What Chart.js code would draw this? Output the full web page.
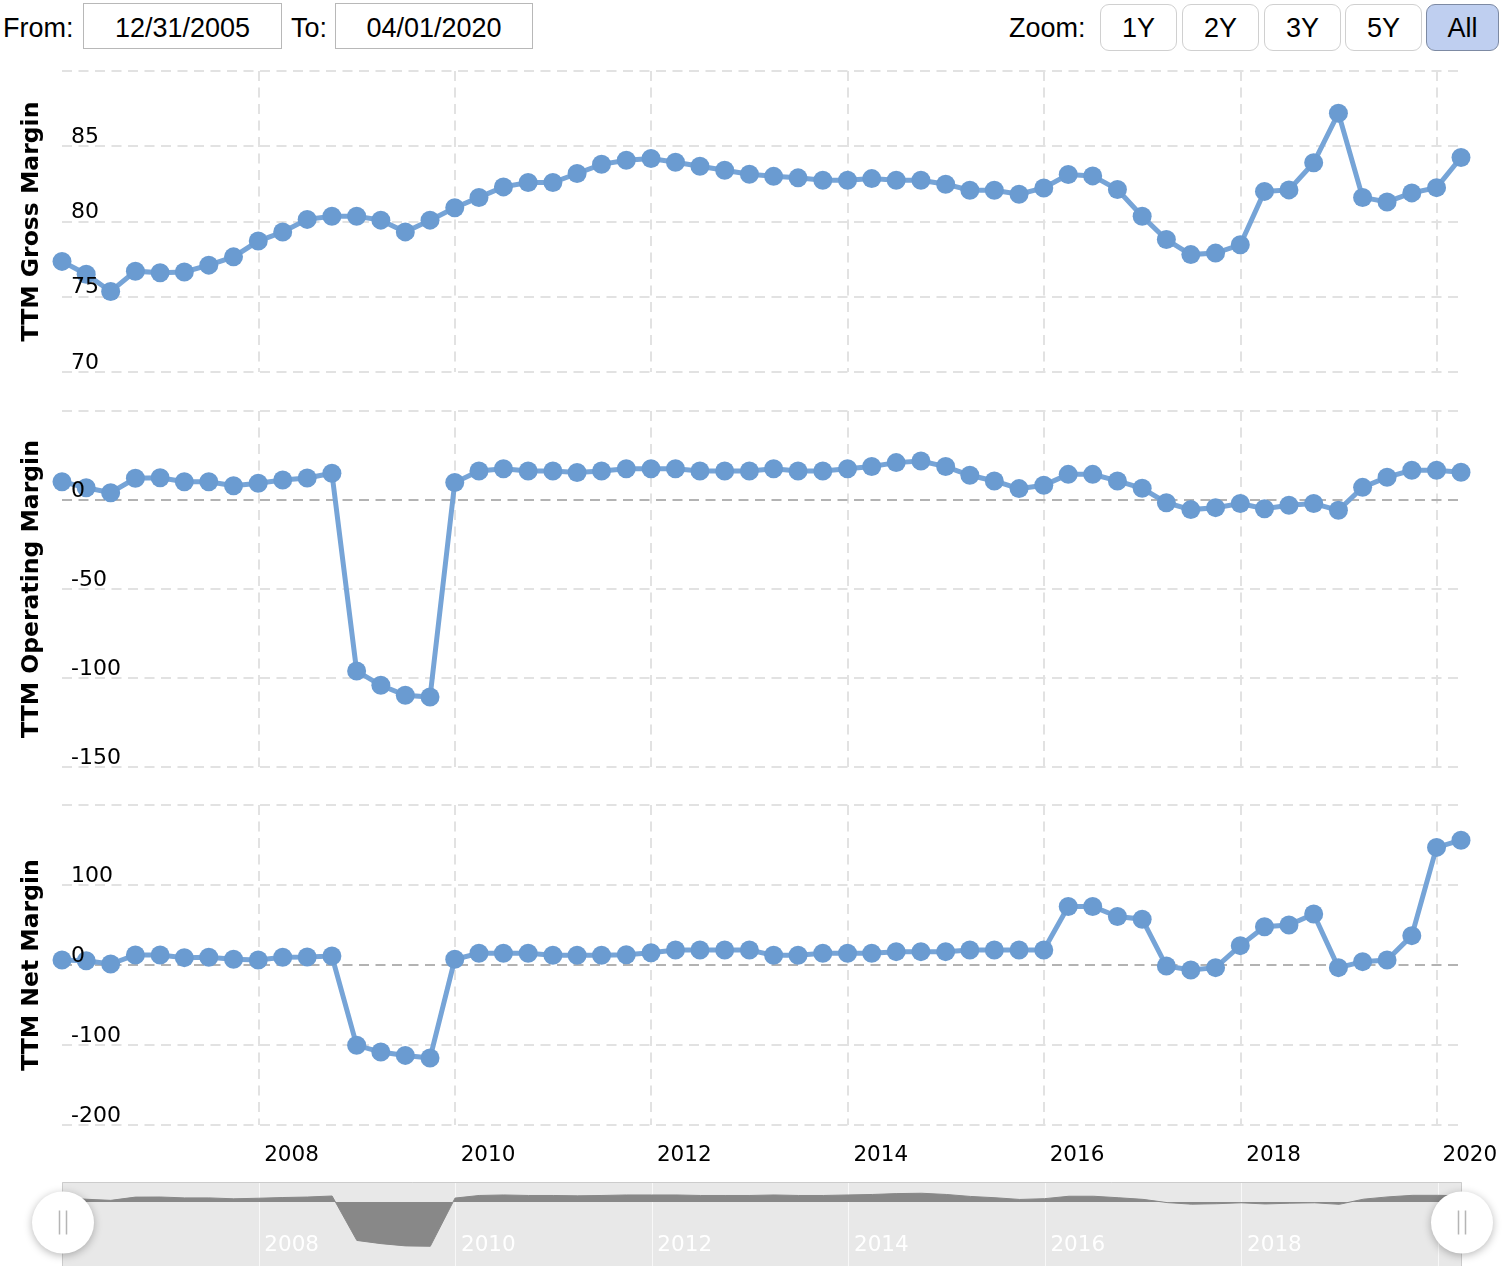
<!DOCTYPE html>
<html><head><meta charset="utf-8">
<script src="https://cdn.jsdelivr.net/npm/chart.js@4.4.1/dist/chart.umd.min.js"></script>
<style>
html,body{margin:0;padding:0;background:#fff;}
body{width:1502px;height:1266px;position:relative;overflow:hidden;font-family:'Liberation Sans',Arial,Helvetica,sans-serif;color:#000;}
.lbl{position:absolute;top:0;height:56px;line-height:56px;font-size:27px;white-space:nowrap;}
.inp{position:absolute;top:3px;height:46px;box-sizing:border-box;border:1.5px solid #b8b8b8;font-size:27px;line-height:48px;text-align:center;background:#fff;}
.btn{position:absolute;top:4px;height:47px;box-sizing:border-box;border:1.5px solid #d0d0d0;border-radius:9px;font-size:27px;line-height:47px;text-align:center;background:#fff;}
.btn.on{background:#bfcff0;border-color:#7d8aa3;}
canvas{position:absolute;left:0;}
</style>
</head><body>
<div class="lbl" style="left:3px;">From:</div>
<div class="inp" style="left:83px;width:199px;">12/31/2005</div>
<div class="lbl" style="left:291px;">To:</div>
<div class="inp" style="left:335px;width:198px;">04/01/2020</div>
<div class="lbl" style="left:1009px;">Zoom:</div>
<div class="btn" style="left:1100px;width:77px;">1Y</div>
<div class="btn" style="left:1182px;width:77px;">2Y</div>
<div class="btn" style="left:1264px;width:77px;">3Y</div>
<div class="btn" style="left:1345px;width:77px;">5Y</div>
<div class="btn on" style="left:1426px;width:73px;">All</div>

<canvas id="c1" width="1502" height="326" style="top:60px;width:1502px;height:326px;"></canvas>
<canvas id="c2" width="1502" height="385" style="top:395px;width:1502px;height:385px;"></canvas>
<canvas id="c3" width="1502" height="385" style="top:790px;width:1502px;height:385px;"></canvas>
<canvas id="c4" width="1502" height="90" style="top:1176px;width:1502px;height:90px;"></canvas>

<script>
const dates = [
 '2005-12-31',
 '2006-03-31','2006-06-30','2006-09-30','2006-12-31',
 '2007-03-31','2007-06-30','2007-09-30','2007-12-31',
 '2008-03-31','2008-06-30','2008-09-30','2008-12-31',
 '2009-03-31','2009-06-30','2009-09-30','2009-12-31',
 '2010-03-31','2010-06-30','2010-09-30','2010-12-31',
 '2011-03-31','2011-06-30','2011-09-30','2011-12-31',
 '2012-03-31','2012-06-30','2012-09-30','2012-12-31',
 '2013-03-31','2013-06-30','2013-09-30','2013-12-31',
 '2014-03-31','2014-06-30','2014-09-30','2014-12-31',
 '2015-03-31','2015-06-30','2015-09-30','2015-12-31',
 '2016-03-31','2016-06-30','2016-09-30','2016-12-31',
 '2017-03-31','2017-06-30','2017-09-30','2017-12-31',
 '2018-03-31','2018-06-30','2018-09-30','2018-12-31',
 '2019-03-31','2019-06-30','2019-09-30','2019-12-31',
 '2020-03-31'
];
const grossMargin = [
 77.35, 76.5, 75.35, 76.7, 76.6, 76.65, 77.1, 77.65, 78.7, 79.3,
 80.14, 80.35, 80.35, 80.09, 79.31, 80.09, 80.91, 81.6, 82.3, 82.59,
 82.59, 83.19, 83.8, 84.07, 84.18, 83.94, 83.67, 83.4, 83.14, 83.0,
 82.9, 82.74, 82.74, 82.85, 82.74, 82.74, 82.48, 82.08, 82.08, 81.81,
 82.23, 83.12, 83.03, 82.13, 80.35, 78.8, 77.8, 77.9, 78.45, 82.0,
 82.1, 83.9, 87.2, 81.6, 81.3, 81.9, 82.25, 84.25
];
const operatingMargin = [
 10.3, 6.9, 4.1, 12.2, 12.5, 10.3, 10.3, 8.0, 9.4, 11.2,
 12.4, 15.0, -96.1, -104.1, -109.7, -110.7, 9.8, 16.3, 17.6, 16.3,
 16.3, 15.4, 16.3, 17.6, 17.6, 17.6, 16.3, 16.3, 16.3, 17.6,
 16.3, 16.3, 17.6, 18.8, 21.0, 21.9, 18.8, 13.9, 10.7, 6.4,
 8.3, 14.4, 14.4, 10.7, 6.6, -1.5, -5.4, -4.3, -2.0, -4.9,
 -3.0, -2.0, -5.8, 7.1, 12.8, 16.7, 16.7, 15.6
];
const netMargin = [
 6.25, 5.4, 1.25, 12.5, 12.5, 9.2, 9.6, 7.1, 6.25, 9.6,
 10.0, 11.3, -100.4, -108.8, -113.0, -116.3, 7.1, 14.6, 14.6, 14.6,
 12.1, 12.1, 12.1, 12.9, 15.4, 18.8, 18.8, 18.8, 18.8, 12.1,
 12.1, 14.6, 14.6, 14.6, 16.7, 16.7, 16.7, 18.8, 18.8, 18.8,
 18.8, 73.2, 73.2, 60.6, 57.3, -1.3, -6.3, -3.3, 24.2, 47.9,
 50.0, 63.75, -3.3, 4.2, 6.25, 36.7, 147.0, 156.0
];
const yearTicks = [2008, 2010, 2012, 2014, 2016, 2018, 2020];
const grossTicks = [70, 75, 80, 85, 90];
const operatingTicks = [-150, -100, -50, 0, 50];
const netTicks = [-200, -100, 0, 100, 200];
const navigatorRange = [-150, 50];

const toTime = s => { const p = s.split('-').map(Number); return Date.UTC(p[0], p[1]-1, p[2]); };
const xs = dates.map(toTime);
const xMin = xs[0], xMax = xs[xs.length-1];
const tickTimes = yearTicks.map(y => Date.UTC(y, 0, 1));

const FONT = 'DejaVu Sans';
const LINE = '#76a4d7';
const MARK = '#6a9bd1';
const GRID = '#e2e2e2';
const ZERO = '#b3b3b3';
const DASH = [10, 6.5];

function zeroPad(s){ s.paddingTop = 0; s.paddingBottom = 0; s.paddingLeft = 0; s.paddingRight = 0; }

function xAxis(showLabels){
  return {
    type: 'linear', min: xMin, max: xMax,
    afterBuildTicks: s => { s.ticks = tickTimes.map(v => ({value: v})); },
    grid: {color: GRID, lineWidth: 2, drawTicks: false},
    border: {display: false, dash: DASH},
    ticks: {display: showLabels, autoSkip: false, maxRotation: 0, labelOffset: 33, padding: 18,
      color: '#000', font: {family: FONT, size: 21.5},
      callback: v => String(new Date(v).getUTCFullYear())},
    afterFit: s => { s.height = showLabels ? 50 : 0; zeroPad(s); }
  };
}
// main axis: grid lines + title (outer)
function yAxis(title, ticks){
  const min = ticks[0], max = ticks[ticks.length-1];
  return {
    type: 'linear', position: 'left', weight: 1, min: min, max: max,
    afterBuildTicks: s => { s.ticks = ticks.map(v => ({value: v})); },
    grid: {color: c => (c.tick && c.tick.value === 0) ? ZERO : GRID, lineWidth: 2, drawTicks: false},
    border: {display: false, dash: DASH},
    ticks: {display: false},
    title: {display: true, text: title, color: '#000', font: {family: FONT, size: 23.5, weight: 'bold'},
      padding: {top: 18, bottom: 0}},
    afterFit: s => { s.width = 62; zeroPad(s); }
  };
}
// label axis: tick labels drawn above the series
function yLabelAxis(ticks){
  const min = ticks[0], max = ticks[ticks.length-1];
  return {
    type: 'linear', position: 'left', weight: 0, min: min, max: max,
    afterBuildTicks: s => { s.ticks = ticks.map(v => ({value: v})); },
    grid: {display: false, drawTicks: false},
    border: {display: false},
    ticks: {z: 1, mirror: true, padding: 9, labelOffset: -9, color: '#000', font: {family: FONT, size: 22},
      callback: v => v === max ? '' : String(v)},
    afterFit: s => { s.width = 0; zeroPad(s); }
  };
}
function makeChart(id, values, title, ticks, showX, padTop, padBottom){
  return new Chart(document.getElementById(id), {
    type: 'line',
    data: {datasets: [{
      data: xs.map((x, i) => ({x: x, y: values[i]})),
      yAxisID: 'y',
      borderColor: LINE, borderWidth: 5,
      pointRadius: 9.5, pointHoverRadius: 9.5, pointBackgroundColor: MARK, pointBorderWidth: 0,
      tension: 0, clip: false, fill: false
    }]},
    options: {
      responsive: false, animation: false, events: [],
      layout: {padding: {left: 0, right: 41, top: padTop, bottom: padBottom}},
      plugins: {legend: {display: false}, tooltip: {enabled: false}},
      scales: {x: xAxis(showX), y: yAxis(title, ticks), yl: yLabelAxis(ticks)}
    }
  });
}

makeChart('c1', grossMargin, 'TTM Gross Margin', grossTicks, false, 11, 14);
makeChart('c2', operatingMargin, 'TTM Operating Margin', operatingTicks, false, 16, 13);
makeChart('c3', netMargin, 'TTM Net Margin', netTicks, true, 15, 0);

const navPlugin = {
  id: 'nav',
  beforeDraw(chart){
    const {ctx, chartArea: a} = chart;
    ctx.save();
    ctx.fillStyle = '#e8e8e8';
    ctx.fillRect(a.left, a.top, a.right - a.left, a.bottom - a.top + 10);
    const xs = chart.scales.x;
    ctx.strokeStyle = 'rgba(255,255,255,0.7)';
    ctx.lineWidth = 1;
    tickTimes.forEach(t => {
      const px = Math.round(xs.getPixelForValue(t)) + 0.5;
      ctx.beginPath(); ctx.moveTo(px, a.top); ctx.lineTo(px, chart.height); ctx.stroke();
    });
    ctx.restore();
  },
  afterDraw(chart){
    const {ctx, chartArea: a} = chart;
    const xs = chart.scales.x;
    ctx.save();
    ctx.fillStyle = '#ffffff';
    ctx.font = '21.5px "' + FONT + '"';
    ctx.textAlign = 'center';
    ctx.textBaseline = 'middle';
    yearTicks.forEach((y, i) => {
      if (y === 2020) return;
      ctx.fillText(String(y), xs.getPixelForValue(tickTimes[i]) + 33, 69);
    });
    ctx.strokeStyle = '#cccccc';
    ctx.lineWidth = 1;
    ctx.beginPath();
    ctx.moveTo(a.left + 0.5, chart.height); ctx.lineTo(a.left + 0.5, a.top + 0.5);
    ctx.lineTo(a.right - 0.5, a.top + 0.5); ctx.lineTo(a.right - 0.5, chart.height);
    ctx.stroke();
    [a.left + 1, a.right].forEach(cx => {
      const cy = 46.5;
      ctx.save();
      ctx.shadowColor = 'rgba(0,0,0,0.28)';
      ctx.shadowBlur = 8;
      ctx.shadowOffsetY = 2;
      ctx.fillStyle = '#ffffff';
      ctx.beginPath(); ctx.arc(cx, cy, 31, 0, Math.PI * 2); ctx.fill();
      ctx.restore();
      ctx.strokeStyle = '#b5b5b5';
      ctx.lineWidth = 1.5;
      ctx.beginPath();
      ctx.moveTo(cx - 3.5, cy - 12); ctx.lineTo(cx - 3.5, cy + 12);
      ctx.moveTo(cx + 3.5, cy - 12); ctx.lineTo(cx + 3.5, cy + 12);
      ctx.stroke();
    });
    ctx.restore();
  }
};

new Chart(document.getElementById('c4'), {
  type: 'line',
  data: {datasets: [{
    data: xs.map((x, i) => ({x: x, y: operatingMargin[i]})),
    borderColor: '#888888', borderWidth: 1, backgroundColor: '#888888',
    pointRadius: 0, tension: 0, fill: {value: 0}
  }]},
  options: {
    responsive: false, animation: false, events: [],
    layout: {padding: {left: 62, right: 40, top: 6, bottom: 4}},
    plugins: {legend: {display: false}, tooltip: {enabled: false}},
    scales: {
      x: {type: 'linear', min: xMin, max: xMax, display: false},
      y: {type: 'linear', min: navigatorRange[0], max: navigatorRange[1], display: false}
    }
  },
  plugins: [navPlugin]
});
</script>
</body></html>
